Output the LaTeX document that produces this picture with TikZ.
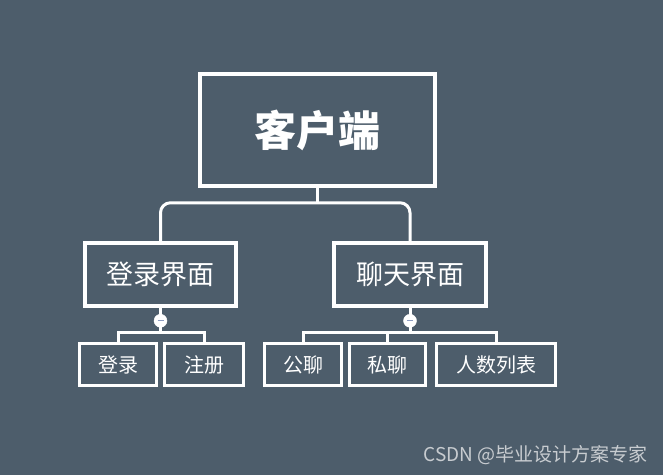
\documentclass[tikz,border=0pt]{standalone}
\usepackage{fontspec}
\newfontfamily\cjk{Noto Sans CJK SC}
\usetikzlibrary{calc}
\definecolor{slate}{HTML}{4D5D6B}
\definecolor{minuscol}{HTML}{8C9BC0}
\definecolor{markgray}{HTML}{C8CCD0}

\begin{document}
\begin{tikzpicture}[x=1pt, y=-1pt,
    box/.style={draw=white, line width=3.5pt, text=white, inner sep=0pt},
    rootbox/.style={box, minimum width=235, minimum height=112,
        font=\cjk\bfseries\fontsize{42}{42}\selectfont},
    midbox/.style={box, minimum height=63, font=\cjk\fontsize{27}{27}\selectfont},
    leafbox/.style={box, line width=3pt, minimum height=42, font=\cjk\fontsize{20}{20}\selectfont},
    link/.style={draw=white, line width=3pt},
    btn/.style={circle, fill=white, draw=white, minimum size=13, inner sep=0pt}]

	\fill[slate] (0,0) rectangle (663,475);

	\node[rootbox] (root) at (317.5,130) {客户端};

	\node[midbox, minimum width=151] (login) at (160.5,274.5) {登录界面};
	\node[midbox, minimum width=152] (chat) at (410,274.5) {聊天界面};

	\node[leafbox, minimum width=77] (signin) at (118,364.5) {登录};
	\node[leafbox, minimum width=79] (signup) at (204,364.5) {注册};

	\node[leafbox, minimum width=77] (pub) at (303,364.5) {公聊};
	\node[leafbox, minimum width=76] (priv) at (387.5,364.5) {私聊};
	\node[leafbox, minimum width=119] (users) at (496,364.5) {人数列表};

	\coordinate (hub) at ($(root.south)+(0,15)$);
	\draw[link] (root.south) -- (hub);
	\draw[link, rounded corners=10pt] (login.north) |- (hub) -| (chat.north);

	\coordinate (lfork) at ($(login.south)+(0,25)$);
	\coordinate (rfork) at ($(chat.south)+(0,25)$);

	\draw[link] (login.south) -- (lfork);
	\draw[link] (signin.north) |- (lfork) -| (signup.north);

	\draw[link] (chat.south) -- (rfork);
	\draw[link] (pub.north) |- (rfork) -| (users.north);
	\draw[link] (priv.north) -- (priv.north |- rfork);

	\node[btn] (lbtn) at ($(login.south)+(0,13)$) {};
	\node[btn] (rbtn) at ($(chat.south)+(0,13)$) {};
	\draw[minuscol, line width=1.2pt] ($(lbtn)+(-3,0)$) -- ($(lbtn)+(3,0)$);
	\draw[minuscol, line width=1.2pt] ($(rbtn)+(-3,0)$) -- ($(rbtn)+(3,0)$);

	\node[anchor=east, text=markgray, inner sep=0pt,
	    font=\cjk\fontsize{19}{19}\selectfont] (mark) at (648,455) {CSDN @毕业设计方案专家};
\end{tikzpicture}
\end{document}
